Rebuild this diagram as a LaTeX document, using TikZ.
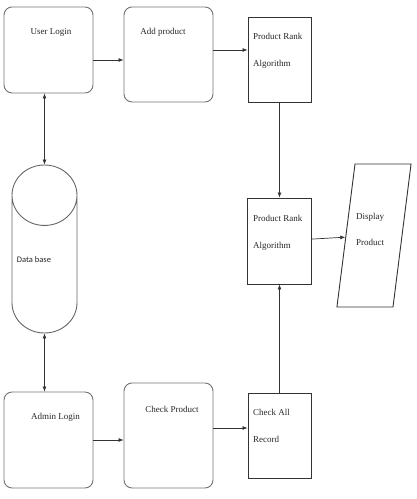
\documentclass[tikz,border=0pt]{standalone}
\usepackage{fontspec}
\setmainfont{Liberation Serif}
\newfontfamily\dbfont{Carlito}
\usetikzlibrary{shapes.geometric,arrows.meta}

\begin{document}
\begin{tikzpicture}[x=1pt, y=-1pt,
  font=\fontsize{9}{27.5}\selectfont,
  rbox/.style={draw=black!55, line width=0.9pt, rounded corners=8pt,
               minimum width=89pt, inner sep=0pt},
  sbox/.style={draw=black!80, line width=0.9pt, minimum width=63pt,
               minimum height=85pt, inner sep=0pt},
  txt/.style={text=black!85, inner sep=0pt, align=left},
  arr/.style={-{Latex[length=5pt,width=4pt]}, line width=0.7pt, draw=black!80},
  darr/.style={{Latex[length=5pt,width=4pt]}-{Latex[length=5pt,width=4pt]},
               line width=0.7pt, draw=black!80},
]
\useasboundingbox (0,0) rectangle (417,499);

%% --- Boxes ---
\node[rbox, minimum height=86pt]  (user)   at (48.5,50)    {};
\node[rbox, minimum height=95pt]  (addp)   at (168.5,54.5) {};
\node[sbox]                       (rank1)  at (279.5,59.5) {};
\node[sbox, minimum width=64pt, minimum height=86pt] (rank2) at (279,241) {};
\node[sbox]                       (chkall) at (279.5,435.5) {};
\node[rbox, minimum height=96pt]  (admin)  at (48.5,440)   {};
\node[rbox, minimum height=105pt] (chkp)   at (168.5,435.5) {};

\node[cylinder, shape border rotate=90, aspect=0.93, draw=black!60,
      line width=0.9pt, inner xsep=32.5pt, inner ysep=0pt,
      minimum width=65pt, minimum height=168pt, anchor=shape center]
      (db) at (44.5,249) {};

\node[trapezium, trapezium left angle=82.8, trapezium right angle=97.2,
      draw=black!80, line width=0.9pt, inner xsep=19pt, inner ysep=71.5pt]
      (disp) at (374,235.5) {};

%% --- Texts ---
\node[txt] (usertxt)  at (51,32)     {User Login};
\node[txt] (addtxt)   at (163,32)    {Add product};
\node[txt] (admintxt) at (55.5,417)  {Admin Login};
\node[txt] (chkptxt)  at (172,409)   {Check Product};
\node[txt, anchor=base west] (rank1txt) at (253,66.5)  {Product Rank\\Algorithm};
\node[txt, anchor=base west] (rank2txt) at (253,248.5) {Product Rank\\Algorithm};
\node[txt, anchor=base west] (alltxt)   at (253,442.5) {Check All\\Record};
\node[txt, anchor=base west, font=\fontsize{9}{26}\selectfont]
      (disptxt) at (356,245) {Display\\Product};
\node[txt, font=\dbfont\fontsize{8.5}{10}\selectfont] (dbtxt) at (34,260) {Data base};

%% --- Arrows ---
\draw[darr] (user.south -| db.north) -- (db.north);
\draw[darr] (db.south) -- (db.south |- admin.north);
\draw[arr] ([yshift=-10pt]user.east) -- ([yshift=-10pt]user.east -| addp.west);
\draw[arr] ([yshift=4.5pt]addp.east) -- ([yshift=4.5pt]addp.east -| rank1.west);
\draw[arr] (rank1.south) -- (rank1.south |- rank2.north);
\draw[arr] (rank2) -- (disp);
\draw[arr] (admin.east) -- (admin.east -| chkp.west);
\draw[arr] ([yshift=7.5pt]chkp.east) -- ([yshift=7.5pt]chkp.east -| chkall.west);
\draw[arr] (chkall.north) -- (chkall.north |- rank2.south);

\end{tikzpicture}
\end{document}
